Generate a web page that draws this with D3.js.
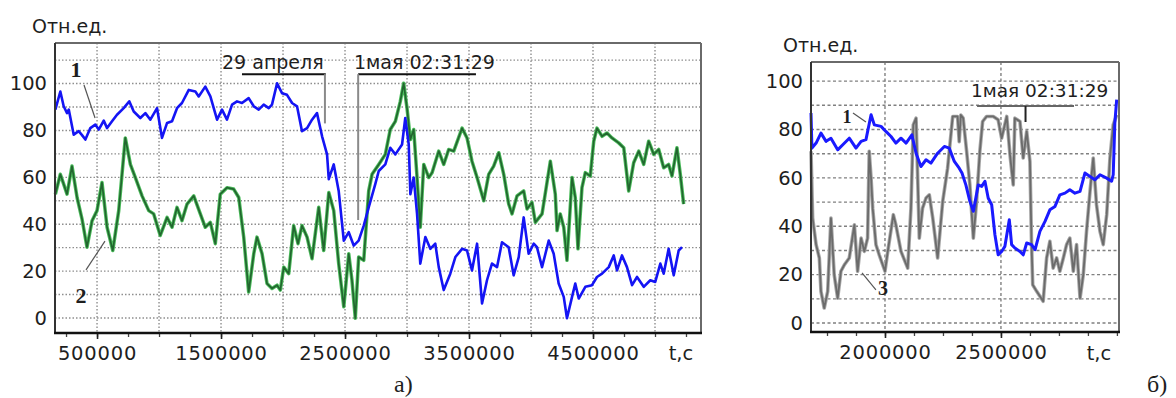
<!DOCTYPE html>
<html>
<head>
<meta charset="utf-8">
<script src="https://cdnjs.cloudflare.com/ajax/libs/d3/7.8.5/d3.min.js"></script>
<style>
  body { margin: 0; background: #fff; }
  svg text { font-family: "DejaVu Sans", "Liberation Sans", sans-serif; fill: #1e1e1e; }
</style>
</head>
<body>
<div id="chart"></div>
<script>
// ---- data (t in seconds, values in rel. units) ----

// panel a), curve 1 (blue)
var tA1 = [164000, 204000, 231000, 258000, 272000, 312000, 352000, 379000, 406000, 446000,
  486000, 514000, 554000, 581000, 621000, 661000, 715000, 760000, 796000, 849000,
  890000, 930000, 984000, 1024000, 1065000, 1105000, 1145000, 1185000, 1240000, 1293000,
  1320000, 1373000, 1414000, 1468000, 1508000, 1548000, 1589000, 1629000, 1669000, 1723000,
  1764000, 1804000, 1844000, 1885000, 1911000, 1952000, 1992000, 2032000, 2073000, 2113000,
  2153000, 2194000, 2234000, 2274000, 2315000, 2355000, 2369000, 2409000, 2449000, 2490000,
  2530000, 2570000, 2610000, 2651000, 2691000, 2744000, 2772000, 2825000, 2865000, 2906000,
  2960000, 2986000, 3014000, 3027000, 3054000, 3081000, 3107000, 3148000, 3188000, 3228000,
  3256000, 3296000, 3349000, 3390000, 3444000, 3484000, 3524000, 3565000, 3605000, 3645000,
  3685000, 3726000, 3766000, 3820000, 3860000, 3901000, 3941000, 3981000, 4022000, 4048000,
  4089000, 4143000, 4183000, 4223000, 4264000, 4290000, 4331000, 4357000, 4385000, 4438000,
  4492000, 4532000, 4573000, 4627000, 4667000, 4694000, 4734000, 4774000, 4815000, 4855000,
  4909000, 4962000, 5002000, 5043000, 5070000, 5110000, 5151000, 5191000, 5218000];
var vA1 = [88.9, 96.6, 90.3, 87.4, 88.9, 78.2, 79.7, 78, 76.1, 81,
  82.5, 80.4, 84.2, 81, 83.9, 86.7, 89.5, 92.4, 88.1, 85.3,
  87.4, 84.6, 89.5, 76.8, 83.2, 83.9, 89.5, 91.7, 97.3, 96.6,
  94.5, 98.7, 94.5, 84.6, 88.9, 84.6, 91, 92.4, 91.7, 93.8,
  90.3, 88.9, 91, 89.5, 91, 100.1, 95.9, 95.2, 91.7, 90.3,
  79.7, 81, 84.6, 87.4, 77.5, 69.8, 59.2, 65.5, 54.2, 33,
  36.6, 30.9, 33, 39.4, 47.2, 57.1, 62.7, 65.5, 72.6, 69.8,
  74, 85.3, 74, 52.8, 59.9, 44.4, 23.2, 34.5, 29.5, 31.7,
  21.7, 11.9, 18.9, 26, 29.5, 28.8, 20.3, 31.7, 6.2, 16.1,
  23.2, 21.7, 32.3, 30.2, 18.2, 26, 42.9, 27.4, 31.7, 30.2,
  21.7, 33, 27.4, 14.7, 9, -0.1, 9, 14.7, 8.3, 13.3,
  14, 17.5, 18.9, 21.7, 26.7, 20.3, 26.7, 21.7, 14, 17.5,
  13.3, 16.1, 15.4, 23.2, 18.9, 29.5, 18.2, 28.8, 30.2];

// panel a), curve 2 (green)
var tA2 = [164000, 204000, 231000, 258000, 298000, 339000, 379000, 419000, 460000, 500000,
  540000, 581000, 627000, 675000, 728000, 769000, 809000, 863000, 917000, 957000,
  1010000, 1065000, 1105000, 1145000, 1185000, 1226000, 1280000, 1333000, 1373000, 1414000,
  1454000, 1494000, 1548000, 1602000, 1643000, 1683000, 1723000, 1764000, 1790000, 1831000,
  1871000, 1911000, 1952000, 1978000, 2006000, 2046000, 2086000, 2121000, 2153000, 2194000,
  2234000, 2288000, 2328000, 2369000, 2409000, 2449000, 2490000, 2530000, 2556000, 2583000,
  2610000, 2651000, 2691000, 2718000, 2772000, 2825000, 2865000, 2906000, 2946000, 2973000,
  3000000, 3027000, 3054000, 3081000, 3107000, 3135000, 3175000, 3202000, 3256000, 3296000,
  3336000, 3377000, 3444000, 3484000, 3524000, 3565000, 3619000, 3659000, 3699000, 3740000,
  3780000, 3820000, 3847000, 3887000, 3941000, 3968000, 4008000, 4035000, 4089000, 4156000,
  4196000, 4210000, 4236000, 4264000, 4290000, 4331000, 4357000, 4379000, 4411000, 4438000,
  4478000, 4506000, 4532000, 4573000, 4613000, 4653000, 4707000, 4748000, 4788000, 4828000,
  4869000, 4909000, 4949000, 4990000, 5030000, 5070000, 5110000, 5137000, 5177000, 5204000,
  5231000];
var vA2 = [52.8, 61.3, 57.1, 52.8, 64.8, 51.4, 42.2, 30.2, 41.5, 45.8,
  57.8, 38.7, 28.8, 45.8, 76.8, 65.5, 59.9, 52.1, 45.8, 44.4,
  35.2, 42.9, 38.7, 47.2, 41.5, 48.6, 52.1, 44.4, 38.7, 40.8,
  31.7, 52.8, 55.6, 55, 51.4, 34.5, 11.1, 27.4, 34.5, 27.4,
  14.7, 12.6, 14, 11.9, 21.7, 18.9, 39.4, 31.7, 39.4, 34.5,
  25.3, 47.2, 28.8, 53.5, 45.8, 23.2, 4.8, 27.4, 16.1, -0.1,
  26, 24.6, 54.2, 61.3, 65.5, 69.8, 80.4, 83.9, 92.4, 100.1,
  89.5, 76.1, 80.4, 59.9, 38.7, 65.5, 59.9, 62, 71.2, 65.5,
  71.9, 71.2, 81, 76.8, 66.9, 59.9, 50, 61.3, 64.8, 70.5,
  61.3, 48.6, 44.4, 52.1, 54.2, 46.5, 49.3, 40.8, 44.4, 66.9,
  52.8, 37.3, 44.4, 38.7, 24.6, 59.9, 51.4, 29.5, 55.6, 62,
  60.6, 75.4, 81, 77.5, 78.9, 76.8, 74.7, 72.6, 54.2, 66.2,
  71.2, 65.5, 75.4, 69.8, 71.9, 64.1, 65.5, 60.6, 72.6, 61.3,
  48.6];

// panel б), curve 1 (blue)
var tB1 = [1681000, 1685000, 1703000, 1724000, 1746000, 1767000, 1796000, 1818000, 1846000, 1875000,
  1897000, 1918000, 1940000, 1954000, 1983000, 2004000, 2026000, 2047000, 2069000, 2091000,
  2116000, 2134000, 2155000, 2177000, 2198000, 2227000, 2256000, 2277000, 2299000, 2320000,
  2332000, 2349000, 2366000, 2381000, 2402000, 2417000, 2431000, 2445000, 2460000, 2474000,
  2488000, 2503000, 2517000, 2536000, 2546000, 2560000, 2582000, 2596000, 2611000, 2632000,
  2647000, 2668000, 2690000, 2711000, 2733000, 2754000, 2776000, 2797000, 2819000, 2841000,
  2862000, 2884000, 2905000, 2927000, 2956000, 2977000, 2984000, 2991000, 2999000];
var vB1 = [86.8, 72.3, 74.4, 78.5, 75.1, 76.4, 71.6, 73.7, 76.4, 72.3,
  75.1, 75.8, 86.1, 81.9, 81.3, 79.2, 77.1, 74.4, 76.4, 74.4,
  77.8, 70.2, 64.7, 67.5, 66.1, 70.2, 73, 72.3, 66.8, 64,
  62, 57, 50.3, 46.2, 57.1, 56.5, 58.6, 51.7, 48.9, 36.5,
  28.2, 29.6, 31.7, 42.7, 32.4, 31, 29.6, 28.2, 33.1, 32.4,
  30.3, 37.9, 42, 46.8, 48.2, 53, 53.7, 55.1, 53.7, 54.4,
  62, 60.6, 59.2, 61.3, 59.9, 58.6, 61.3, 82.6, 92.3];

// panel б), curve 3 (grey)
var tB3 = [1681000, 1688000, 1703000, 1717000, 1724000, 1738000, 1753000, 1767000, 1781000, 1796000,
  1810000, 1825000, 1846000, 1868000, 1882000, 1897000, 1911000, 1925000, 1932000, 1940000,
  1947000, 1961000, 1975000, 2000000, 2012000, 2036000, 2047000, 2069000, 2098000, 2112000,
  2122000, 2134000, 2148000, 2162000, 2177000, 2191000, 2206000, 2227000, 2249000, 2270000,
  2292000, 2313000, 2320000, 2327000, 2337000, 2352000, 2366000, 2381000, 2395000, 2409000,
  2421000, 2438000, 2467000, 2488000, 2503000, 2525000, 2539000, 2553000, 2560000, 2582000,
  2596000, 2611000, 2625000, 2632000, 2637000, 2654000, 2682000, 2697000, 2711000, 2725000,
  2740000, 2754000, 2769000, 2783000, 2797000, 2812000, 2826000, 2841000, 2855000, 2869000,
  2884000, 2898000, 2912000, 2927000, 2941000, 2956000, 2970000, 2984000, 2999000];
var vB3 = [71, 43.4, 32.4, 26.9, 13.1, 6.2, 13.1, 43.4, 20, 10.3,
  21.4, 24.1, 26.9, 40.6, 21.4, 35.1, 29.6, 35.1, 71, 59.9,
  47.5, 32.4, 28.2, 21.4, 29.6, 44.8, 40.6, 29.6, 22.7, 47.5,
  81.9, 84.7, 35.1, 47.5, 51.7, 53, 43.4, 26.9, 50.3, 64,
  85.4, 85.4, 75, 86, 84.7, 71, 57.1, 35.1, 50.3, 71,
  83.3, 85.4, 85.4, 84, 76.4, 85.4, 69.5, 57.1, 84.7, 83.3,
  68.2, 79.2, 66.8, 32.4, 15.8, 13.1, 9, 26.9, 33.8, 22.7,
  26.9, 21.4, 26.9, 32.4, 35.1, 21.4, 32.4, 10.3, 20, 37.9,
  54.4, 68.2, 48.9, 37.9, 32.4, 44.8, 68.2, 81.9, 86];

var yTicks = [0, 20, 40, 60, 80, 100];
var xTicksA = [500000, 1500000, 2500000, 3500000, 4500000];
var xTicksB = [2000000, 2500000];

// ---- drawing ----
var svg = d3.select("#chart")
  .append("svg")
  .attr("width", 1176)
  .attr("height", 398);

function drawPanel(p) {
  var x = d3.scaleLinear().domain(p.xDomain).range([p.left, p.right]);
  var y = d3.scaleLinear().domain(p.yDomain).range([p.bottom, p.top]);
  var g = svg.append("g");

  // grid
  g.selectAll(".hgrid")
    .data(p.gridY)
    .enter()
    .append("line")
    .attr("x1", p.left).attr("x2", p.right)
    .attr("y1", d => y(d)).attr("y2", d => y(d))
    .attr("stroke", p.gridColor)
    .attr("stroke-width", 1.4)
    .attr("stroke-dasharray", p.gridDash);

  g.selectAll(".vgrid")
    .data(p.gridX)
    .enter()
    .append("line")
    .attr("x1", d => x(d)).attr("x2", d => x(d))
    .attr("y1", p.top).attr("y2", p.bottom)
    .attr("stroke", p.gridColor)
    .attr("stroke-width", 1.4)
    .attr("stroke-dasharray", p.gridDash);

  // curves
  p.series.forEach(function(s) {
    var pts = s.t.map((d, i) => [d, s.v[i]]);
    var line = d3.line().x(d => x(d[0])).y(d => y(d[1]));
    if (s.halo) {
      g.append("path")
        .datum(pts)
        .attr("d", line)
        .attr("fill", "none")
        .attr("stroke", s.halo)
        .attr("stroke-width", s.width + 1.8)
        .attr("stroke-linejoin", "round");
    }
    g.append("path")
      .datum(pts)
      .attr("d", line)
      .attr("fill", "none")
      .attr("stroke", s.color)
      .attr("stroke-width", s.width)
      .attr("stroke-linejoin", "round");
  });

  // frame: top / right grey, left / bottom dark
  g.append("line").attr("x1", p.left).attr("x2", p.right).attr("y1", p.top).attr("y2", p.top)
    .attr("stroke", "#6a6a6a").attr("stroke-width", 2);
  g.append("line").attr("x1", p.right).attr("x2", p.right).attr("y1", p.top).attr("y2", p.bottom)
    .attr("stroke", "#6a6a6a").attr("stroke-width", 2);
  g.append("line").attr("x1", p.left).attr("x2", p.left).attr("y1", p.top).attr("y2", p.bottom)
    .attr("stroke", "#333").attr("stroke-width", 2);

  // minor ticks under the axis
  g.append("g")
    .attr("transform", `translate(0, ${p.bottom})`)
    .call(d3.axisBottom(x).tickValues(p.minorTicks).tickSize(4).tickFormat(""))
    .call(ax => ax.select(".domain").remove())
    .selectAll("line").attr("stroke", "#444").attr("stroke-width", 1.3);

  // major ticks + labels
  var xAxis = g.append("g")
    .attr("transform", `translate(0, ${p.bottom})`)
    .call(d3.axisBottom(x).tickValues(p.xTicks).tickSize(p.majorTick).tickPadding(13 - p.majorTick).tickFormat(d3.format("d")));
  xAxis.select(".domain").remove();
  xAxis.selectAll("line").attr("stroke", "#222").attr("stroke-width", 1.6);
  xAxis.selectAll("text")
    .style("font-size", "19.5px")
    .style("letter-spacing", "0.8px")
    .style("font-family", "'DejaVu Sans', sans-serif")
    .attr("fill", "#1e1e1e");

  g.append("line").attr("x1", p.left - 1).attr("x2", p.right + 1).attr("y1", p.bottom).attr("y2", p.bottom)
    .attr("stroke", "#111").attr("stroke-width", 2.5);

  var yAxis = g.append("g")
    .attr("transform", `translate(${p.left}, 0)`)
    .call(d3.axisLeft(y).tickValues(yTicks).tickSize(0).tickPadding(8));
  yAxis.select(".domain").remove();
  yAxis.selectAll("text")
    .style("font-size", "19.5px")
    .style("font-family", "'DejaVu Sans', sans-serif")
    .attr("fill", "#1e1e1e");

  // axis titles
  g.append("text")
    .attr("x", p.titleX)
    .attr("y", p.top - 10)
    .style("font-size", "19px")
    .text("Отн.ед.");

  g.append("text")
    .attr("x", p.right - 20)
    .attr("y", 360)
    .attr("text-anchor", "middle")
    .style("font-size", "19.5px")
    .text("t,c");

  // date markers
  p.markers.forEach(function(m) {
    g.append("text")
      .attr("x", x(m.textT))
      .attr("y", y(m.textV))
      .style("font-size", m.size)
      .text(m.text);
    g.append("line")
      .attr("x1", x(m.t0)).attr("x2", x(m.t1))
      .attr("y1", y(m.barV)).attr("y2", y(m.barV))
      .attr("stroke", m.barColor).attr("stroke-width", 2);
    g.append("line")
      .attr("x1", x(m.dropT)).attr("x2", x(m.dropT))
      .attr("y1", y(m.barV)).attr("y2", y(m.dropV))
      .attr("stroke", m.dropColor).attr("stroke-width", 2);
  });

  // curve numbers with leader lines
  p.callouts.forEach(function(c) {
    g.append("line")
      .attr("x1", x(c.from[0])).attr("y1", y(c.from[1]))
      .attr("x2", x(c.to[0])).attr("y2", y(c.to[1]))
      .attr("stroke", "#555").attr("stroke-width", 1.2);
    g.append("text")
      .attr("x", x(c.at[0]))
      .attr("y", y(c.at[1]))
      .attr("text-anchor", "middle")
      .attr("dominant-baseline", "central")
      .style("font-family", "'Liberation Serif', 'Times New Roman', serif")
      .style("font-weight", "bold")
      .style("font-size", c.size)
      .text(c.label);
  });

  // panel letter
  g.append("text")
    .attr("x", p.letterX)
    .attr("y", 392)
    .style("font-family", "'Liberation Serif', 'Times New Roman', serif")
    .style("font-size", "24px")
    .text(p.letter);
}

drawPanel({
  left: 55, right: 701, top: 43, bottom: 333,
  xDomain: [161000, 5371000], yDomain: [-6.4, 117.3],
  xTicks: xTicksA,
  minorTicks: d3.range(250000, 5300001, 250000),
  majorTick: 6,
  gridX: d3.range(500000, 5000001, 500000),
  gridY: d3.range(0, 111, 10),
  gridColor: "#8e8e8e", gridDash: "1.5,2",
  titleX: 32,
  letter: "а)", letterX: 394,
  series: [
    { t: tA2, v: vA2, color: "#22662f", halo: "#4cbc5c", width: 1.7 },
    { t: tA1, v: vA1, color: "#1414f4", width: 2.6 }
  ],
  markers: [
    { text: "29 апреля", textT: 1508000, textV: 106.4, size: "19px",
      t0: 1669000, t1: 2345000, barV: 104, barColor: "#111",
      dropT: 2338000, dropV: 83, dropColor: "#8a8a8a" },
    { text: "1мая 02:31:29", textT: 2572000, textV: 106.4, size: "19px",
      t0: 2606000, t1: 3556000, barV: 104, barColor: "#111",
      dropT: 2606000, dropV: 41.8, dropColor: "#8a8a8a" }
  ],
  callouts: [
    { label: "1", at: [330000, 105.8], from: [395000, 99.4], to: [484000, 85.3], size: "22px" },
    { label: "2", at: [371000, 9.8], from: [411000, 20.5], to: [564000, 32.8], size: "22px" }
  ]
});

drawPanel({
  left: 811, right: 1119, top: 62, bottom: 332,
  xDomain: [1681000, 3009000], yDomain: [-3.7, 107.9],
  xTicks: xTicksB,
  minorTicks: d3.range(1750000, 3000001, 125000),
  majorTick: 6,
  gridX: [2000000, 2500000],
  gridY: d3.range(0, 101, 10),
  gridColor: "#808080", gridDash: "3,2.5",
  titleX: 783,
  letter: "б)", letterX: 1147,
  series: [
    { t: tB3, v: vB3, color: "#6b6b6b", halo: "#a8a8a8", width: 1.8 },
    { t: tB1, v: vB1, color: "#1a1aff", width: 3 }
  ],
  markers: [
    { text: "1мая 02:31:29", textT: 2371000, textV: 93.4, size: "18.5px",
      t0: 2397000, t1: 2815000, barV: 89.7, barColor: "#666",
      dropT: 2606000, dropV: 83.1, dropColor: "#222" }
  ],
  callouts: [
    { label: "1", at: [1836000, 85.2], from: [1862000, 86.8], to: [1918000, 83.1], size: "18px" },
    { label: "3", at: [1991000, 14.5], from: [1901000, 20.7], to: [1961000, 13.7], size: "20px" }
  ]
});
</script>
</body>
</html>
